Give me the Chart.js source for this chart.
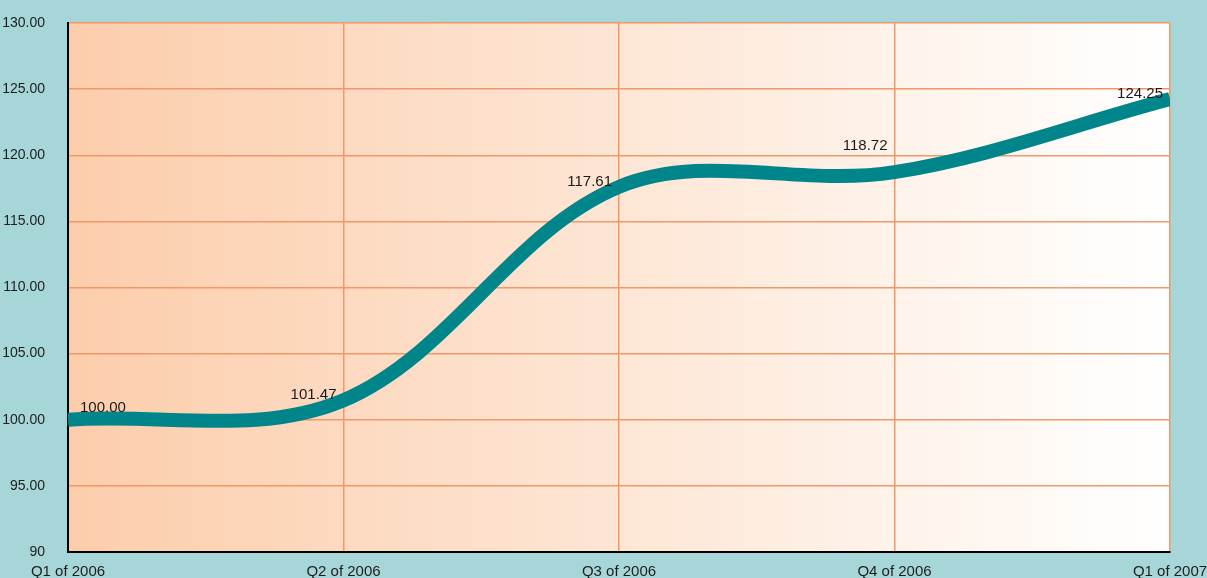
<!DOCTYPE html>
<html>
<head>
<meta charset="utf-8">
<script src="https://cdn.jsdelivr.net/npm/chart.js@4/dist/chart.umd.min.js"></script>
<style>
  html, body { margin: 0; padding: 0; background: #a6d6d8; }
  #box { width: 1207px; height: 578px; position: relative; }
</style>
</head>
<body>
<div id="box"><canvas id="graficos"></canvas></div>
<script>
// datos del grafico
const quarters = ['Q1 of 2006', 'Q2 of 2006', 'Q3 of 2006', 'Q4 of 2006', 'Q1 of 2007'];
const indexValues = [100.00, 101.47, 117.61, 118.72, 124.25];
const yTickLabels = ['90', '95.00', '100.00', '105.00', '110.00', '115.00', '120.00', '125.00', '130.00'];

const narrow = "'Liberation Sans Narrow', 'Arial Narrow', 'Liberation Sans', Arial, sans-serif";
Chart.defaults.font.family = narrow;
Chart.defaults.color = '#1e1e1e';

// fondo degradado del area
const fondoArea = {
    id: 'fondoArea',
    beforeDraw(chart) {
        const a = chart.chartArea;
        const ctx = chart.ctx;
        const g = ctx.createLinearGradient(a.left, 0, a.right, 0);
        g.addColorStop(0, '#fccdab');
        g.addColorStop(1, '#ffffff');
        ctx.save();
        ctx.fillStyle = g;
        ctx.fillRect(a.left, a.top, a.right - a.left, a.bottom - a.top);
        ctx.restore();
    }
};

// etiquetas de valor
const etiquetas = {
    id: 'etiquetas',
    afterDatasetsDraw(chart, args, opts) {
        const ctx = chart.ctx;
        const meta = chart.getDatasetMeta(0);
        const a = chart.chartArea;
        ctx.save();
        ctx.font = '15px ' + narrow;
        ctx.fillStyle = '#1a1a1a';
        ctx.textBaseline = 'alphabetic';
        ctx.textAlign = 'left';
        meta.data.forEach((p, i) => {
            const txt = indexValues[i].toFixed(2);
            const w = ctx.measureText(txt).width;
            let x = p.x - 7 - w;
            let y = p.y - 1;
            if (x < a.left + 10) { x = a.left + 12; y = p.y - 8; }
            y -= opts.lift[i] || 0;
            ctx.fillText(txt, x, y);
        });
        ctx.restore();
    }
};

function sinRelleno(scale) {
    scale.paddingTop = 0;
    scale.paddingBottom = 0;
    scale.paddingLeft = 0;
    scale.paddingRight = 0;
}

const ctx = document.getElementById('graficos').getContext('2d');
const myChart = new Chart(ctx, {
    type: 'line',
    data: {
        labels: quarters,
        datasets: [{
            label: 'Index',
            data: indexValues,
            borderColor: '#00868a',
            borderWidth: 14,
            pointRadius: 0,
            tension: 0.35,
            fill: false,
            clip: 0
        }]
    },
    options: {
        responsive: true,
        maintainAspectRatio: false,
        animation: false,
        layout: { padding: { top: 23, right: 37, left: 0, bottom: 0 } },
        plugins: {
            legend: { display: false },
            tooltip: { enabled: false },
            etiquetas: { lift: [0, 0, 0, 21, 0] }
        },
        scales: {
            x: {
                offset: false,
                grid: { color: '#f1986a', lineWidth: 1.5, drawTicks: false },
                border: { color: '#000000', width: 2 },
                ticks: { font: { size: 15 }, padding: 11, maxRotation: 0, autoSkip: false },
                afterFit(scale) { scale.height = 26; sinRelleno(scale); }
            },
            y: {
                min: 90,
                max: 130,
                grid: { color: '#f1986a', lineWidth: 1.5, drawTicks: false },
                border: { color: '#000000', width: 2 },
                ticks: {
                    stepSize: 5,
                    font: { size: 14 },
                    padding: 23,
                    callback: (v, i) => yTickLabels[i]
                },
                afterFit(scale) { scale.width = 68; sinRelleno(scale); }
            }
        }
    },
    plugins: [fondoArea, etiquetas]
});
</script>
</body>
</html>
